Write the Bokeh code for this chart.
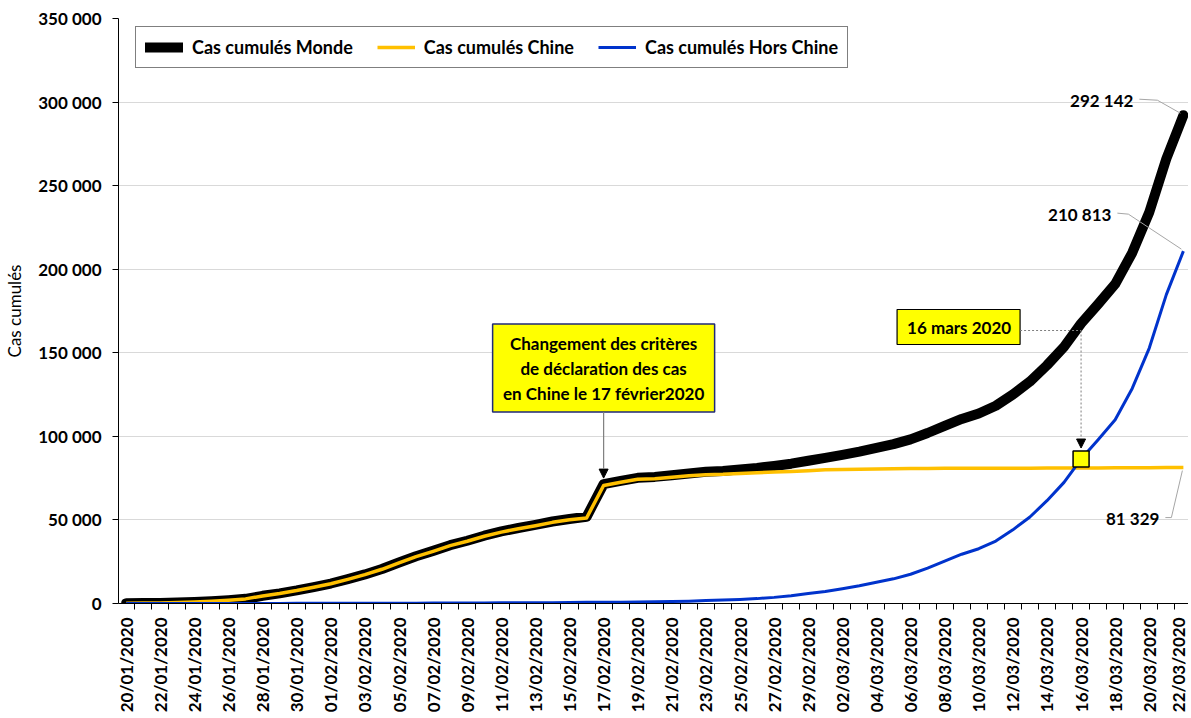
import math
from bokeh.plotting import figure
from bokeh.models import Range1d, FixedTicker, Legend, LegendItem, Arrow, NormalHead
from bokeh.embed import file_html
from bokeh.resources import INLINE
from bokeh.core.properties import value

# ---------------- data ----------------
dates = [
    "20/01/2020", "21/01/2020", "22/01/2020", "23/01/2020", "24/01/2020", "25/01/2020",
    "26/01/2020", "27/01/2020", "28/01/2020", "29/01/2020", "30/01/2020", "31/01/2020",
    "01/02/2020", "02/02/2020", "03/02/2020", "04/02/2020", "05/02/2020", "06/02/2020",
    "07/02/2020", "08/02/2020", "09/02/2020", "10/02/2020", "11/02/2020", "12/02/2020",
    "13/02/2020", "14/02/2020", "15/02/2020", "16/02/2020", "17/02/2020", "18/02/2020",
    "19/02/2020", "20/02/2020", "21/02/2020", "22/02/2020", "23/02/2020", "24/02/2020",
    "25/02/2020", "26/02/2020", "27/02/2020", "28/02/2020", "29/02/2020", "01/03/2020",
    "02/03/2020", "03/03/2020", "04/03/2020", "05/03/2020", "06/03/2020", "07/03/2020",
    "08/03/2020", "09/03/2020", "10/03/2020", "11/03/2020", "12/03/2020", "13/03/2020",
    "14/03/2020", "15/03/2020", "16/03/2020", "17/03/2020", "18/03/2020", "19/03/2020",
    "20/03/2020", "21/03/2020", "22/03/2020",
]

monde = [
    222, 282, 314, 581, 846, 1320, 2014, 2798, 4593, 6065, 7818, 9826,
    11953, 14557, 17391, 20630, 24554, 28276, 31481, 34886, 37558, 40554, 43103, 45171,
    46997, 49053, 50580, 51857, 71429, 73332, 75204, 75748, 76769, 77794, 78811, 79331,
    80239, 81109, 82294, 83652, 85403, 87137, 88948, 90870, 93090, 95324, 98192, 102009,
    106215, 110393, 113702, 118319, 125048, 132758, 142539, 153517, 167515, 179111, 191127, 209839,
    234073, 266073, 292142,
]

chine = [
    218, 278, 309, 571, 830, 1297, 1985, 2761, 4537, 5997, 7736, 9720,
    11821, 14411, 17238, 20471, 24363, 28060, 31211, 34598, 37251, 40235, 42708, 44730,
    46550, 48548, 50054, 51174, 70635, 72528, 74280, 74675, 75569, 76392, 77042, 77262,
    77780, 78191, 78630, 78961, 79394, 79968, 80174, 80304, 80422, 80565, 80711, 80813,
    80859, 80904, 80924, 80955, 80981, 80991, 81021, 81048, 81077, 81116, 81151, 81174,
    81236, 81300, 81329,
]

hors_chine = [
    4, 4, 5, 10, 16, 23, 29, 37, 56, 68, 82, 106,
    132, 146, 153, 159, 191, 216, 270, 288, 307, 319, 395, 441,
    447, 505, 526, 683, 794, 804, 924, 1073, 1200, 1402, 1769, 2069,
    2459, 2918, 3664, 4691, 6009, 7169, 8774, 10566, 12668, 14759, 17481, 21196,
    25356, 29489, 32778, 37364, 44067, 51767, 61518, 72469, 86438, 97995, 109976, 128665,
    152837, 184773, 210813,
]

y_ticks = [0, 50000, 100000, 150000, 200000, 250000, 300000, 350000]
y_tick_labels = ["0", "50 000", "100 000", "150 000", "200 000", "250 000", "300 000", "350 000"]

series_names = ["Cas cumulés Monde", "Cas cumulés Chine", "Cas cumulés Hors Chine"]
note_change = ["Changement des critères", "de déclaration des cas", "en Chine le 17 février2020"]
note_date = "16 mars 2020"
idx_change = dates.index("17/02/2020")
idx_mark = dates.index("16/03/2020")

# ---------------- layout ----------------
FONT = "Lato"
W, H = 1188, 716
BL, BR, BT = 118, 0, 18
FH = 585
BB = H - BT - FH
FW = W - BL - BR
X0, X1 = -0.45, 62.3
Y0, Y1 = 0, 350000
ppx = FW / (X1 - X0)
ppy = FH / (Y1 - Y0)


def at(ix, val, dx=0.0, dy=0.0):
    """data anchor + screen pixel offset (dy positive = downwards)"""
    return ix + dx / ppx, val - dy / ppy


x = list(range(len(dates)))

p = figure(width=W, height=H, x_range=Range1d(X0, X1), y_range=Range1d(Y0, Y1),
           output_backend="svg", toolbar_location=None,
           min_border_left=BL, min_border_right=BR, min_border_top=BT, min_border_bottom=BB)
p.outline_line_color = None
p.background_fill_color = "white"
p.border_fill_color = "white"

# grid
p.xgrid.visible = False
p.ygrid.ticker = FixedTicker(ticks=y_ticks)
p.ygrid.grid_line_color = "#D9D9D9"
p.ygrid.grid_line_width = 1

# y axis
p.yaxis.ticker = FixedTicker(ticks=y_ticks)
p.yaxis.major_label_overrides = {t: l for t, l in zip(y_ticks, y_tick_labels)}
p.yaxis.major_tick_out = 6
p.yaxis.major_tick_in = 0
p.yaxis.minor_tick_line_color = None
p.yaxis.axis_line_color = "black"
p.yaxis.major_tick_line_color = "black"
p.yaxis.major_label_text_font = FONT
p.yaxis.major_label_text_font_size = "17px"
p.yaxis.major_label_text_font_style = "bold"
p.yaxis.major_label_text_color = "black"
p.yaxis.major_label_standoff = 11
p.yaxis.axis_label = "Cas cumulés"
p.yaxis.axis_label_text_font = FONT
p.yaxis.axis_label_text_font_size = "17px"
p.yaxis.axis_label_text_font_style = "normal"
p.yaxis.axis_label_text_color = "black"
p.yaxis.axis_label_standoff = 10

# x axis
even = list(range(0, len(dates), 2))
p.xaxis.ticker = FixedTicker(ticks=even, minor_ticks=[i - 0.5 for i in range(len(dates) + 1)])
p.xaxis.major_label_overrides = {i: dates[i] for i in even}
p.xaxis.major_label_orientation = math.pi / 2
p.xaxis.major_tick_out = 0
p.xaxis.major_tick_in = 0
p.xaxis.minor_tick_out = 6
p.xaxis.minor_tick_in = 0
p.xaxis.minor_tick_line_color = "black"
p.xaxis.axis_line_color = "black"
p.xaxis.major_label_text_font = FONT
p.xaxis.major_label_text_font_size = "17px"
p.xaxis.major_label_text_font_style = "bold"
p.xaxis.major_label_text_color = "black"
p.xaxis.major_label_standoff = 8

# series
r_monde = p.line(x, monde, line_color="black", line_width=10, line_cap="round", line_join="round")
r_chine = p.line(x, chine, line_color="#FFC000", line_width=3.5, line_join="round")
r_hors = p.line(x, hors_chine, line_color="#0033CC", line_width=3, line_join="round")

legend = Legend(items=[LegendItem(label=series_names[0], renderers=[r_monde]),
                       LegendItem(label=series_names[1], renderers=[r_chine]),
                       LegendItem(label=series_names[2], renderers=[r_hors])],
                orientation="horizontal", location=(17, 535))
legend.border_line_color = "black"
legend.border_line_width = 1
legend.background_fill_color = "white"
legend.background_fill_alpha = 1
legend.label_text_font = FONT
legend.label_text_font_size = "18px"
legend.label_text_font_style = "bold"
legend.label_text_color = "black"
legend.glyph_width = 38
legend.glyph_height = 18
legend.label_standoff = 9
legend.spacing = 24
legend.padding = 9
legend.margin = 0
p.add_layout(legend)

# ---- annotation 1 : change of criteria (17/02) ----
m_ch = monde[idx_change]
bl, bb = at(idx_change, m_ch, -111, -72)
br, bt = at(idx_change, m_ch, 111, -160)
p.quad(left=[bl], right=[br], bottom=[bb], top=[bt], fill_color="#FFFF00",
       line_color="#202A78", line_width=1.5)
tx, ty = [], []
for k, dy in enumerate([-141, -116, -91]):
    xx, yy = at(idx_change, m_ch, 0, dy)
    tx.append(xx)
    ty.append(yy)
p.text(x=tx, y=ty, text=note_change, text_align="center", text_baseline="middle",
       text_font=value(FONT), text_font_style="bold", text_font_size="17px", text_color="black")
ax0, ay0 = at(idx_change, m_ch, 0, -72)
ax1, ay1 = at(idx_change, m_ch, 0, -6)
p.add_layout(Arrow(end=NormalHead(size=9, fill_color="black", line_color="black", line_width=1),
                   x_start=ax0, y_start=ay0, x_end=ax1, y_end=ay1,
                   line_color="#7F7F7F", line_width=1.2))

# ---- annotation 2 : 16 mars 2020 ----
m_mk = monde[idx_mark]
h_mk = hors_chine[idx_mark]
b2l, b2b = at(idx_mark, m_mk, -184, 21)
b2r, b2t = at(idx_mark, m_mk, -61, -14)
p.quad(left=[b2l], right=[b2r], bottom=[b2b], top=[b2t], fill_color="#FFFF00",
       line_color="black", line_width=1.2)
t2x, t2y = at(idx_mark, m_mk, -122, 4)
p.text(x=[t2x], y=[t2y], text=[note_date], text_align="center", text_baseline="middle",
       text_font=value(FONT), text_font_style="bold", text_font_size="17px", text_color="black")
hx0, hy = at(idx_mark, m_mk, -61, 7)
hx1, _ = at(idx_mark, m_mk, 0, 7)
p.line([hx0, hx1], [hy, hy], line_color="#7F7F7F", line_width=1, line_dash="2 2")
vx, vy1 = at(idx_mark, h_mk, 0, -11)
p.add_layout(Arrow(end=NormalHead(size=9, fill_color="black", line_color="black", line_width=1),
                   x_start=vx, y_start=hy, x_end=vx, y_end=vy1,
                   line_color="#7F7F7F", line_width=1, line_dash="2 2"))
p.scatter([idx_mark], [h_mk], marker="square", size=16, fill_color="#FFFF00",
          line_color="black", line_width=1.5)

# ---- end-point data labels ----
last = len(dates) - 1
end_labels = [
    (monde[last], "292 142", (-50, -15), [(-44, -16), (-26, -15), (-3, -2)]),
    (hors_chine[last], "210 813", (-72, -37), [(-66, -38), (-55, -37), (-2, -2)]),
    (chine[last], "81 329", (-24, 51), [(-18, 50), (-12, 50), (-1, 3)]),
]
for val, txt, (dx, dy), leader in end_labels:
    lx, ly = at(last, val, dx, dy)
    p.text(x=[lx], y=[ly], text=[txt], text_align="right", text_baseline="middle",
           text_font=value(FONT), text_font_style="bold", text_font_size="17px", text_color="black")
    pts = [at(last, val, a, b) for a, b in leader]
    p.line([q[0] for q in pts], [q[1] for q in pts], line_color="#A6A6A6", line_width=1)

open("out.html", "w").write(file_html(p, INLINE))
